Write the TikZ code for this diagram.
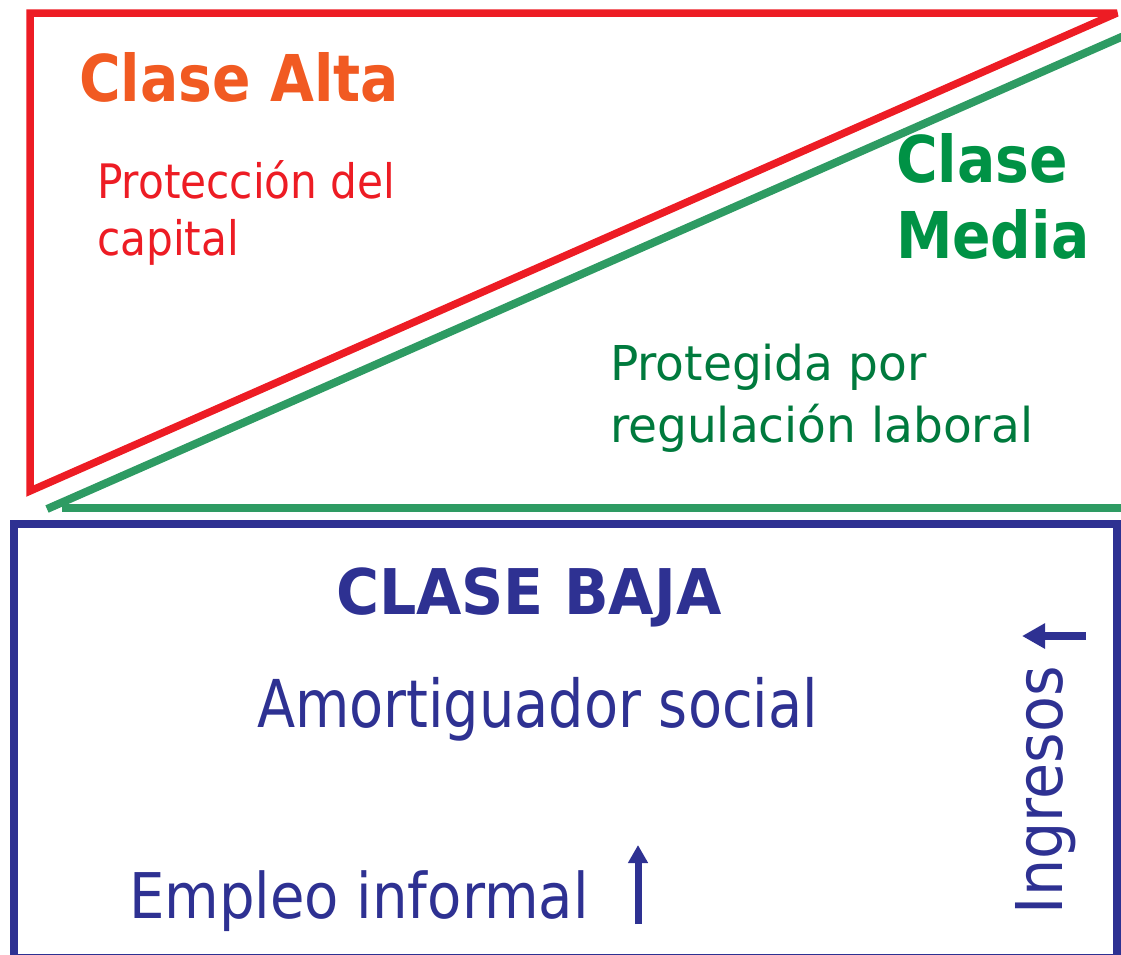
\documentclass[tikz,border=0pt]{standalone}
\usepackage{fontspec}
\setmainfont{DejaVu Sans}
\usetikzlibrary{arrows.meta}
\definecolor{cred}{HTML}{ED1C24}
\definecolor{corange}{HTML}{F15A22}
\definecolor{cgline}{HTML}{2E9B63}
\definecolor{cgtitle}{HTML}{009245}
\definecolor{cgtext}{HTML}{007A3D}
\definecolor{cblue}{HTML}{2E3192}
\newcommand{\sqtxt}[3]{\scalebox{#1}[1]{\fontsize{#2}{#2}\selectfont #3}}
\tikzset{
  lbl/.style={inner sep=0pt, outer sep=0pt, anchor=base west},
  redline/.style={draw=cred, line width=7.5pt, line join=miter, miter limit=2},
  greenline/.style={draw=cgline, line width=8pt},
  blueline/.style={draw=cblue, line width=8pt},
  uparrow/.style={draw=cblue, line width=#1, -{Triangle[length=18pt,width=19pt]}},
}
\begin{document}
\begin{tikzpicture}[x=1pt,y=-1pt]
\useasboundingbox (0,0) rectangle (1121,954);
% red triangle
\draw[redline] (30,13) -- (1117,13) -- (30,491) -- cycle;
% green lines
\draw[greenline] (47,509) -- (1135,31);
\draw[greenline] (62,508) -- (1135,508);
% blue box
\draw[blueline] (14,524) rectangle (1117,958);
% texts
\node[lbl, text=corange] (alta) at (79,101) {\sqtxt{0.88}{64.5pt}{\bfseries Clase Alta}};
\node[lbl, text=cred] (prot1) at (97,198) {\sqtxt{0.89}{47.5pt}{Protección del}};
\node[lbl, text=cred] (prot2) at (97,255) {\sqtxt{0.89}{47.5pt}{capital}};
\node[lbl, text=cgtitle] (media1) at (896,182) {\sqtxt{0.88}{64.5pt}{\bfseries Clase}};
\node[lbl, text=cgtitle] (media2) at (896,258) {\sqtxt{0.88}{64.5pt}{\bfseries Media}};
\node[lbl, text=cgtext] (reg1) at (610,380) {\sqtxt{0.98}{48pt}{Protegida por}};
\node[lbl, text=cgtext] (reg2) at (610,442) {\sqtxt{0.98}{48pt}{regulación laboral}};
\node[lbl, text=cblue] (baja) at (336,614) {\sqtxt{0.93}{63pt}{\bfseries CLASE BAJA}};
\node[lbl, text=cblue] (amort) at (257,727) {\sqtxt{0.845}{66pt}{Amortiguador social}};
\node[lbl, text=cblue] (empleo) at (129,918) {\sqtxt{0.89}{63pt}{Empleo informal}};
\node[lbl, text=cblue, rotate=90] (ingresos) at (1062,914) {\sqtxt{0.91}{64.5pt}{Ingresos}};
% arrows
\coordinate (ea0) at (638,924);
\coordinate (ea1) at (638,845);
\draw[uparrow=7pt] (ea0) -- (ea1);
\coordinate (ia0) at (1086,636);
\coordinate (ia1) at (1022,636);
\draw[draw=cblue, line width=8.5pt, -{Triangle[length=23pt,width=24pt]}] (ia0) -- (ia1);
\end{tikzpicture}
\end{document}
